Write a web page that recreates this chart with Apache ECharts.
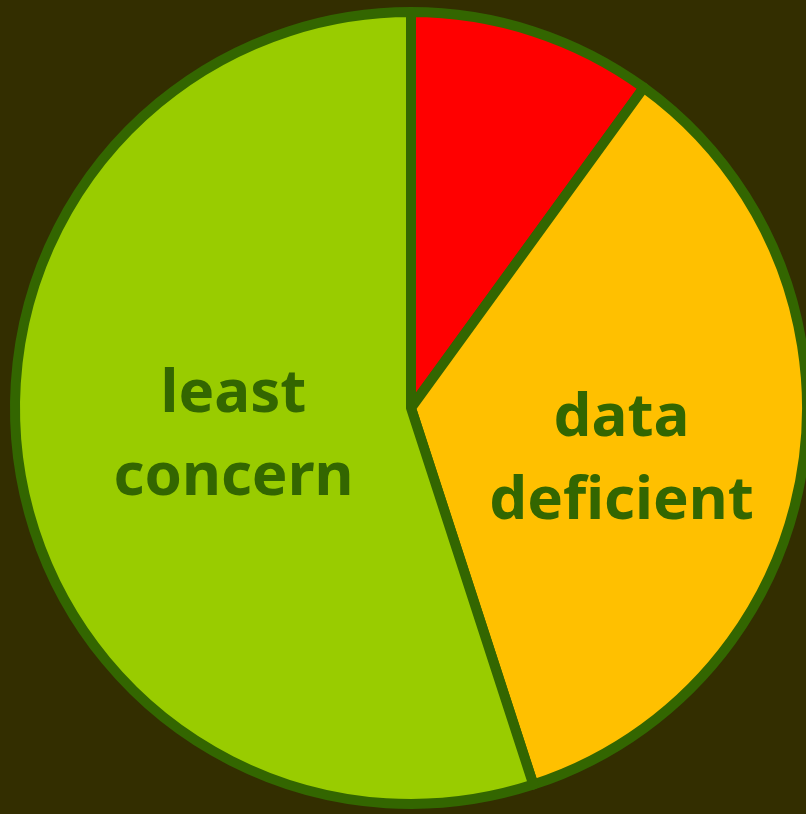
<!DOCTYPE html>
<html>
<head>
<meta charset="utf-8">
<script src="https://cdn.jsdelivr.net/npm/echarts@6/dist/echarts.min.js"></script>
<style>
  html, body { margin: 0; padding: 0; background: #332e00; }
  #chart { width: 806px; height: 814px; }
</style>
</head>
<body>
<div id="chart"></div>
<script>
const categories = ["endangered", "data\ndeficient", "least\nconcern"];
const values = [10, 35, 55];
const colors = ["#ff0000", "#ffc000", "#99cc00"];
const showLabel = [false, true, true];
// small nudges for the inside labels (px)
const labelShift = [[0, 0], [12, 21], [21, -3]];

const chart = echarts.init(document.getElementById("chart"));

chart.setOption({
  backgroundColor: "#332e00",
  animation: false,
  series: [
    {
      type: "pie",
      center: [411, 408],
      radius: 396,
      startAngle: 90,
      clockwise: true,
      silent: true,
      itemStyle: { borderColor: "#336600", borderWidth: 10 },
      label: {
        position: "inside",
        formatter: "{b}",
        color: "#336600",
        fontFamily: "Noto Sans",
        fontWeight: "bold",
        fontSize: 60,
        lineHeight: 83,
        align: "center",
      },
      labelLine: { show: false },
      labelLayout: (p) => ({ dx: labelShift[p.dataIndex][0], dy: labelShift[p.dataIndex][1] }),
      data: categories.map((c, i) => ({
        name: c,
        value: values[i],
        itemStyle: { color: colors[i] },
        label: { show: showLabel[i] },
      })),
    },
  ],
});
</script>
</body>
</html>
